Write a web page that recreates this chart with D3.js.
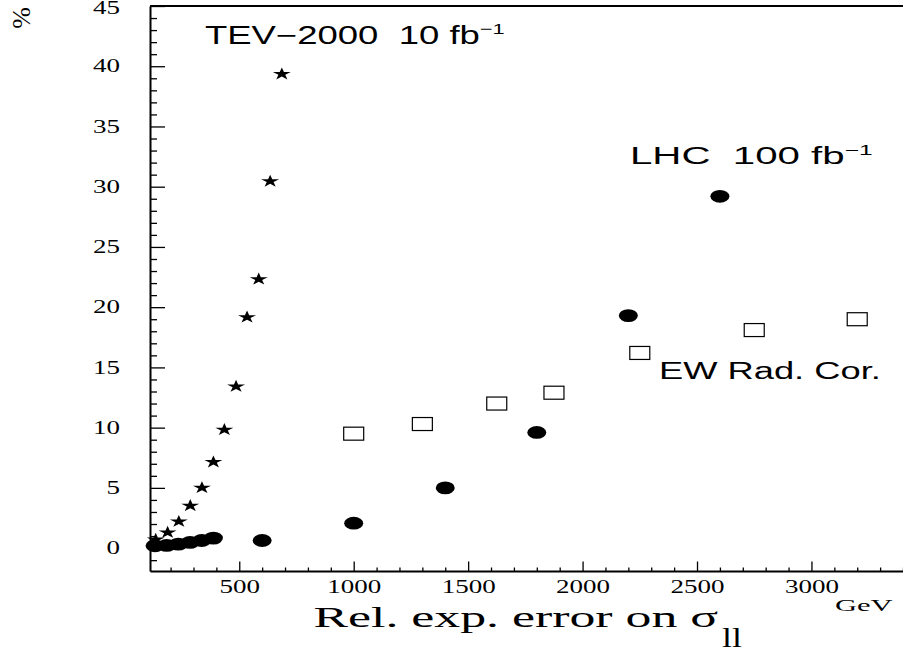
<!DOCTYPE html>
<html><head><meta charset="utf-8">
<script src="https://d3js.org/d3.v7.min.js"></script>
<style>body{margin:0;background:#fff}svg{display:block}text{white-space:pre}
.tk text{font-family:"Liberation Serif",serif !important;font-size:18px !important}</style>
</head><body>
<svg id="c" width="903" height="652"></svg>
<script>
// ---- data ----
const tevMass = [135, 187, 236, 286, 337, 387, 435, 486, 534, 585, 635, 686];
const tevErr  = [0.77, 1.35, 2.26, 3.57, 5.06, 7.19, 9.88, 13.47, 19.22, 22.37, 30.5, 39.4];
const lhcMass = [132, 183, 234, 285, 336, 387, 600, 1000, 1400, 1800, 2200, 2600];
const lhcErr  = [0.19, 0.22, 0.33, 0.47, 0.63, 0.83, 0.63, 2.07, 5.0, 9.6, 19.3, 29.2];
const ewMass  = [1000, 1300, 1625, 1875, 2250, 2750, 3200];
const ewCorr  = [9.5, 10.3, 12.0, 12.9, 16.2, 18.1, 19.0];
const yMajorTicks = [0, 5, 10, 15, 20, 25, 30, 35, 40, 45];
const xMajorTicks = [500, 1000, 1500, 2000, 2500, 3000];

const svg = d3.select("#c");
const x = d3.scaleLinear().domain([110, 3400]).range([150, 903]);
const y = d3.scaleLinear().domain([-1.9, 45]).range([571, 6]);
const SX = 1.5;

// y axis minor
svg.append("g").attr("transform", "translate(150,0)")
  .call(d3.axisLeft(y).tickValues(d3.range(-1, 45).filter(v => v % 5 !== 0)).tickSize(-7).tickSizeOuter(0).tickFormat(""))
  .call(g => g.select(".domain").remove())
  .selectAll("line").attr("stroke-width", 1.3);
// y axis major
const ya = svg.append("g").attr("class", "tk").attr("transform", "translate(150,0)")
  .call(d3.axisLeft(y).tickValues(yMajorTicks).tickSize(-15).tickSizeOuter(0).tickPadding(30).tickFormat(d3.format("d")));
ya.select(".domain").attr("stroke-width", 2);
ya.selectAll("line").attr("stroke-width", 1.3);
ya.selectAll("text").attr("x", -30 / SX).attr("transform", `scale(${SX},1)`)
  .attr("y", d => d === 45 ? 2 : 0);

// x axis minor
svg.append("g").attr("transform", "translate(0,571)")
  .call(d3.axisBottom(x).tickValues(d3.range(200, 3401, 100).filter(v => v % 500 !== 0)).tickSize(-3.5).tickSizeOuter(0).tickFormat(""))
  .call(g => g.select(".domain").remove())
  .selectAll("line").attr("stroke-width", 1.3);
const xa = svg.append("g").attr("class", "tk").attr("transform", "translate(0,571)")
  .call(d3.axisBottom(x).tickValues(xMajorTicks).tickSize(-9.5).tickSizeOuter(0).tickPadding(9).tickFormat(d3.format("d")));
xa.select(".domain").attr("stroke-width", 2);
xa.selectAll("line").attr("stroke-width", 1.3);
xa.selectAll("text").attr("transform", `scale(${SX},1)`);

// top frame line
svg.append("line").attr("x1", x.range()[0]).attr("x2", x.range()[1])
  .attr("y1", y(45)).attr("y2", y(45)).attr("stroke", "#000").attr("stroke-width", 2);

// helper to stretch text to a measured width
function fitText(x0, yb, w, build) {
  const g = svg.append("g").attr("transform", `translate(${x0},${yb})`);
  const t = g.append("text");
  build(t);
  const bw = t.node().getBBox().width;
  g.attr("transform", `translate(${x0},${yb}) scale(${w / bw},1)`);
  return t;
}

// data: stars (TEV)
const star = d3.symbol(d3.symbolStar).size(49);
svg.append("g").selectAll("path").data(tevMass.map((m, i) => [m, tevErr[i]])).join("path")
  .attr("d", star)
  .attr("transform", d => `translate(${x(d[0])},${y(d[1]) + 0.6}) scale(1.43,1)`)
  .attr("fill", "#000");

// data: ellipses (LHC)
svg.append("g").selectAll("ellipse").data(lhcMass.map((m, i) => [m, lhcErr[i]])).join("ellipse")
  .attr("cx", d => x(d[0])).attr("cy", d => y(d[1]))
  .attr("rx", 9.5).attr("ry", 6.4).attr("fill", "#000");

// data: open rectangles (EW)
svg.append("g").selectAll("rect").data(ewMass.map((m, i) => [m, ewCorr[i]])).join("rect")
  .attr("x", d => x(d[0]) - 10).attr("y", d => y(d[1]) - 6.5)
  .attr("width", 20).attr("height", 13)
  .attr("fill", "none").attr("stroke", "#000").attr("stroke-width", 1.2);

// annotations
fitText(205, 44, 300, t => {
  t.attr("font-family", "Liberation Sans").attr("font-size", 25);
  t.append("tspan").text("TEV\u22122000  10 fb");
  t.append("tspan").attr("font-size", 15).attr("dy", -10).text("\u22121");
});
fitText(630, 164, 243, t => {
  t.attr("font-family", "Liberation Sans").attr("font-size", 23);
  t.append("tspan").text("LHC  100 fb");
  t.append("tspan").attr("font-size", 14).attr("dy", -9).text("\u22121");
});
fitText(659, 379, 222, t => {
  t.attr("font-family", "Liberation Sans").attr("font-size", 23).text("EW Rad. Cor.");
});

// axis titles
fitText(313.5, 626.5, 405.5, t => {
  t.attr("font-family", "Liberation Serif").attr("font-size", 29).text("Rel. exp. error on \u03C3");
});
fitText(722, 647, 20, t => {
  t.attr("font-family", "Liberation Serif").attr("font-size", 27).text("ll");
});
fitText(835, 611, 59, t => {
  t.attr("font-family", "Liberation Serif").attr("font-size", 17).text("GeV");
});
svg.append("text").attr("transform", "translate(30,18) rotate(-90)")
  .attr("text-anchor", "middle").attr("font-family", "Liberation Serif").attr("font-size", 26)
  .text("%");
</script>
</body></html>
